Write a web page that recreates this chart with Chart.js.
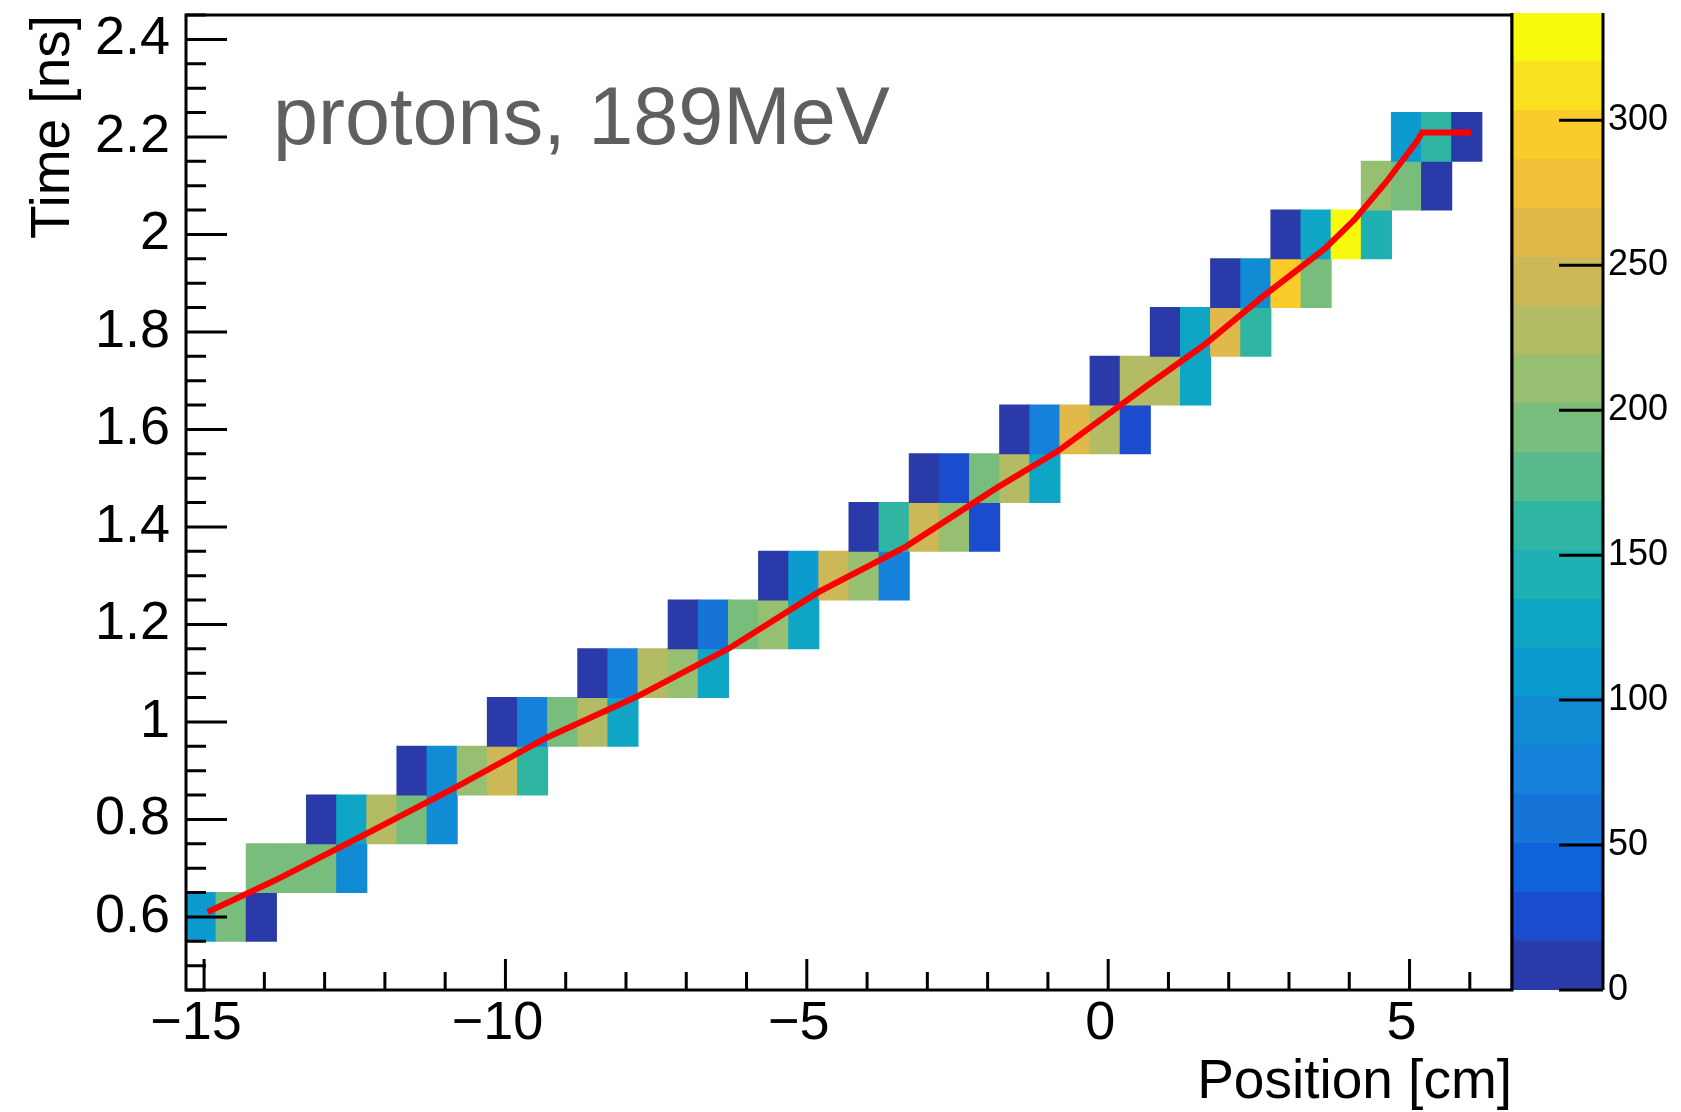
<!DOCTYPE html>
<html>
<head>
<meta charset="utf-8">
<title>protons, 189MeV</title>
<script src="https://cdn.jsdelivr.net/npm/chart.js@4.4.1/dist/chart.umd.min.js"></script>
<style>
  html, body { margin: 0; padding: 0; background: #fff; }
  #wrap { position: relative; width: 1681px; height: 1112px; }
  #main { position: absolute; left: 0; top: 0; }
  #zbar { position: absolute; left: 1500px; top: 0; }
</style>
</head>
<body>
<div id="wrap">
  <canvas id="main" width="1681" height="1112" style="width:1681px;height:1112px"></canvas>
  <canvas id="zbar" width="181" height="1112" style="width:181px;height:1112px"></canvas>
</div>
<script>
// histogram binning: position [cm] x time [ns]
const xLow = -15.3, xHigh = 6.7, xBin = 0.5;
const yLow = 0.45, yHigh = 2.45, yBin = 0.1;

// filled cells, one entry per time row: row number, first position bin, counts
const rowIndex = [1, 2, 3, 4, 5, 6, 7, 8, 9, 10, 11, 12, 13, 14, 15, 16, 17];
const rowFirstBin = [0, 2, 4, 7, 10, 13, 16, 19, 22, 24, 27, 30, 32, 34, 36, 39, 40];
const rowCounts = [
  [110, 194, 9],
  [196, 190, 199, 93],
  [10, 128, 229, 192, 92],
  [8, 96, 212, 246, 161],
  [11, 77, 195, 227, 127],
  [9, 75, 231, 210, 125],
  [12, 60, 193, 213, 129],
  [10, 112, 250, 209, 79],
  [11, 158, 245, 214, 28],
  [9, 30, 194, 230, 126],
  [12, 78, 262, 227, 29],
  [10, 226, 232, 127],
  [11, 125, 260, 160],
  [8, 94, 296, 196],
  [13, 128, 337, 145],
  [212, 196, 10],
  [111, 162, 9]
];

// mean time profile (red line)
const profX = [-14.94, -13.82, -12.30, -10.82, -9.31, -7.80, -6.30, -4.78, -3.35, -1.85,
               -0.84, 0.66, 1.59, 2.59, 3.59, 4.10, 4.61, 5.11, 5.21, 6.02];
const profY = [0.610, 0.675, 0.771, 0.866, 0.968, 1.053, 1.150, 1.268, 1.360, 1.480,
               1.555, 1.691, 1.773, 1.875, 1.970, 2.032, 2.107, 2.189, 2.209, 2.209];

// axes
const xTicks = [-15, -10, -5, 0, 5];
const yTicks = [0.6, 0.8, 1.0, 1.2, 1.4, 1.6, 1.8, 2.0, 2.2, 2.4];
const zTicks = [0, 50, 100, 150, 200, 250, 300];
const zMax = 337;
const zColors = [
  '#2a3aa8', '#1a4ccd', '#1062dc', '#1673d8', '#1681da',
  '#118bd4', '#0b9bcf', '#0fa6c5', '#1fb0b4', '#2fb6a3',
  '#57bb8d', '#78bd7c', '#97bf72', '#b3bb64', '#cdb857',
  '#e0b94a', '#f1c13a', '#fbcb2b', '#f9e020', '#f9f90e'
];
const label = 'protons, 189MeV';

const family = '"Liberation Sans", Arial, Helvetica, sans-serif';
Chart.defaults.font.family = family;
Chart.defaults.color = '#000';

const band = z => Math.min(zColors.length - 1, Math.floor(z / zMax * zColors.length));

const cells = [];
rowIndex.forEach((r, n) => {
  const lo = yLow + r * yBin;
  rowCounts[n].forEach((z, k) => {
    cells.push({ x: xLow + (rowFirstBin[n] + k + 0.5) * xBin, y: [lo, lo + yBin], z: z });
  });
});
const profile = profX.map((x, i) => ({ x: x, y: profY[i] }));

const xMinor = [];
for (let v = Math.ceil(xLow); v <= xHigh; v++) xMinor.push(v);
const yMinor = [];
for (let k = Math.ceil(yLow / 0.05 - 1e-9); k * 0.05 <= yHigh + 1e-9; k++) yMinor.push(Math.round(k * 5) / 100);

const isMajor = (list, v) => list.some(t => Math.abs(t - v) < 1e-6);
const fmtX = v => (v < 0 ? '\u2212' + Math.abs(v) : String(v));

// frame, inside ticks and the text label, ROOT style
const rootAxes = {
  id: 'rootAxes',
  afterDatasetsDraw(chart) {
    const { ctx, chartArea: a, scales: { x, y } } = chart;
    ctx.save();
    ctx.strokeStyle = '#000';
    ctx.lineWidth = 3;
    ctx.beginPath();
    xMinor.forEach(v => {
      const p = x.getPixelForValue(v);
      ctx.moveTo(p, a.bottom);
      ctx.lineTo(p, a.bottom - (isMajor(xTicks, v) ? 31 : 18));
    });
    yMinor.forEach(v => {
      const p = y.getPixelForValue(v);
      ctx.moveTo(a.left, p);
      ctx.lineTo(a.left + (isMajor(yTicks, v) ? 41 : 20), p);
    });
    ctx.stroke();
    ctx.strokeRect(a.left, a.top, a.right - a.left, a.bottom - a.top);

    ctx.fillStyle = '#5f5f5f';
    ctx.font = '81px ' + family;
    ctx.textBaseline = 'alphabetic';
    ctx.fillText(label, 273, 144);
    ctx.restore();
  }
};

new Chart(document.getElementById('main'), {
  type: 'bar',
  data: {
    datasets: [
      {
        type: 'line',
        data: profile,
        borderColor: '#ff0000',
        borderWidth: 6,
        pointRadius: 0,
        tension: 0,
        order: 0
      },
      {
        type: 'bar',
        data: cells,
        backgroundColor: c => (c.raw ? zColors[band(c.raw.z)] : zColors[0]),
        borderWidth: 0,
        barPercentage: 1,
        categoryPercentage: 1,
        inflateAmount: 0.5,
        order: 1
      }
    ]
  },
  options: {
    responsive: false,
    animation: false,
    layout: { padding: { left: 0, top: 15, right: 169, bottom: 0 } },
    plugins: { legend: { display: false }, tooltip: { enabled: false } },
    scales: {
      x: {
        type: 'linear',
        min: xLow,
        max: xHigh,
        offset: false,
        grid: { display: false, drawTicks: false, offset: false },
        border: { display: false },
        afterBuildTicks: s => { s.ticks = xTicks.map(v => ({ value: v })); },
        afterFit: s => { s.height = 122; s.paddingLeft = 0; s.paddingRight = 0; },
        ticks: {
          font: { size: 54 },
          padding: 2,
          labelOffset: -8,
          maxRotation: 0,
          autoSkip: false,
          callback: v => fmtX(v)
        },
        title: {
          display: true,
          text: 'Position [cm]',
          align: 'end',
          font: { size: 55, lineHeight: 1 },
          padding: { top: 0, bottom: 2 }
        }
      },
      y: {
        type: 'linear',
        min: yLow,
        max: yHigh,
        beginAtZero: false,
        grid: { display: false, drawTicks: false },
        border: { display: false },
        afterBuildTicks: s => { s.ticks = yTicks.map(v => ({ value: v })); },
        afterFit: s => { s.width = 186; s.paddingTop = 0; s.paddingBottom = 0; },
        ticks: {
          font: { size: 54 },
          padding: 16,
          autoSkip: false,
          callback: v => String(Math.round(v * 10) / 10)
        },
        title: {
          display: true,
          text: 'Time [ns]',
          align: 'end',
          font: { size: 55, lineHeight: 1 },
          padding: { top: 26, bottom: 0 }
        }
      }
    }
  },
  plugins: [rootAxes]
});

// colour scale
const zStep = zMax / zColors.length;
const zAxis = {
  id: 'zAxis',
  afterDatasetsDraw(chart) {
    const { ctx, chartArea: a, scales: { y } } = chart;
    ctx.save();
    ctx.strokeStyle = '#000';
    ctx.lineWidth = 3;
    ctx.beginPath();
    ctx.moveTo(a.left, a.top);
    ctx.lineTo(a.left, a.bottom);
    ctx.moveTo(a.right, a.top);
    ctx.lineTo(a.right, a.bottom);
    zTicks.forEach(v => {
      const p = y.getPixelForValue(v);
      ctx.moveTo(a.right, p);
      ctx.lineTo(a.right - 44, p);
    });
    ctx.stroke();
    ctx.restore();
  }
};

new Chart(document.getElementById('zbar'), {
  type: 'bar',
  data: {
    labels: [''],
    datasets: zColors.map((c, k) => ({
      data: [[k * zStep, (k + 1) * zStep]],
      backgroundColor: c,
      borderWidth: 0,
      barPercentage: 1,
      categoryPercentage: 1,
      grouped: false,
      inflateAmount: 0.5
    }))
  },
  options: {
    responsive: false,
    animation: false,
    layout: { padding: { left: 12, top: 13, right: 0, bottom: 122 } },
    plugins: { legend: { display: false }, tooltip: { enabled: false } },
    scales: {
      x: { display: false },
      y: {
        position: 'right',
        min: 0,
        max: zMax,
        grid: { display: false, drawTicks: false },
        border: { display: false },
        afterBuildTicks: s => { s.ticks = zTicks.map(v => ({ value: v })); },
        afterFit: s => { s.width = 78; s.paddingTop = 0; s.paddingBottom = 0; },
        ticks: { font: { size: 36 }, padding: 5, autoSkip: false }
      }
    }
  },
  plugins: [zAxis]
});
</script>
</body>
</html>
